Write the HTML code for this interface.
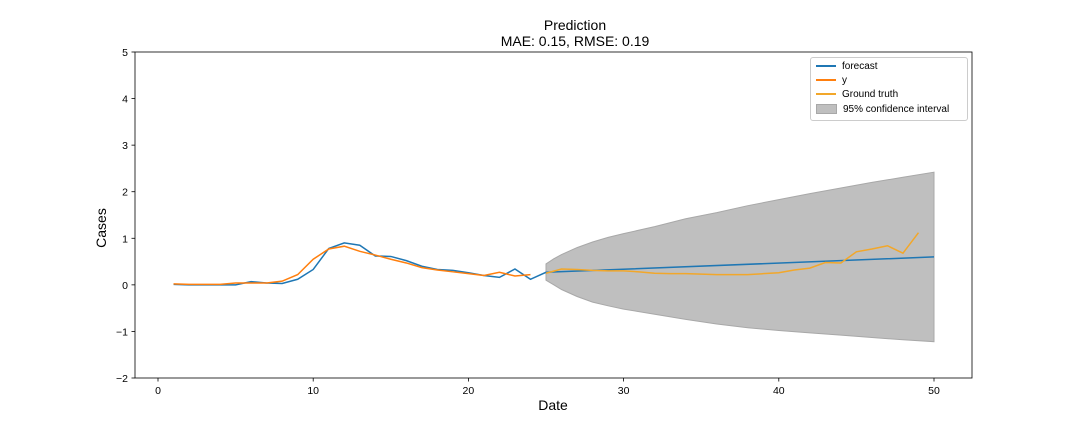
<!DOCTYPE html>
<html><head><meta charset="utf-8"><style>
html,body{margin:0;padding:0;background:#fff;font-family:"Liberation Sans","DejaVu Sans",sans-serif;width:1080px;height:432px;overflow:hidden;position:relative}
svg{display:block}
.ln{display:inline-block;width:20px;height:2px;vertical-align:middle;margin-right:6px}
</style></head><body>
<svg id="c" width="1080" height="432" xmlns="http://www.w3.org/2000/svg" font-family="Liberation Sans, DejaVu Sans, sans-serif"></svg>
<script>
const fcX=[1,2,3,4,5,6,7,8,9,10,11,12,13,14,15,16,17,18,19,20,21,22,23,24,25,50];
const fcY=[0.01,0,0,0,0,0.07,0.04,0.03,0.12,0.33,0.78,0.9,0.85,0.62,0.61,0.52,0.4,0.33,0.31,0.26,0.2,0.16,0.34,0.12,0.27,0.6];
const yX=[1,2,3,4,5,6,7,8,9,10,11,12,13,14,15,16,17,18,19,20,21,22,23,24];
const yY=[0.02,0.01,0.01,0.01,0.04,0.04,0.04,0.08,0.22,0.55,0.77,0.83,0.72,0.64,0.55,0.47,0.37,0.32,0.28,0.24,0.2,0.27,0.19,0.22];
const gtX=[25,26,27,28,29,30,31,32,33,34,35,36,37,38,39,40,41,42,43,44,45,46,47,48,49];
const gtY=[0.25,0.34,0.33,0.31,0.3,0.3,0.28,0.25,0.24,0.24,0.23,0.22,0.22,0.22,0.24,0.26,0.32,0.36,0.48,0.47,0.71,0.77,0.84,0.68,1.12];
const ciX=[25,25.5,26,27,28,29,30,32,34,36,38,40,42,44,46,48,50];
const ciUp=[0.45,0.56,0.65,0.8,0.92,1.02,1.1,1.25,1.42,1.55,1.7,1.83,1.96,2.08,2.2,2.31,2.42];
const ciLo=[0.1,0.0,-0.1,-0.25,-0.37,-0.45,-0.52,-0.63,-0.74,-0.84,-0.92,-0.98,-1.03,-1.08,-1.13,-1.18,-1.22];
const xTicks=[0,10,20,30,40,50];
const yTicks=[-2,-1,0,1,2,3,4,5];

const L=135,R=972,T=52,B=378;
const sx=v=>158+(v-0)*(934-158)/50;
const sy=v=>B-(v+2)*(B-T)/7;
const svg=document.getElementById('c');
const NS='http://www.w3.org/2000/svg';
function mk(tag,attrs,parent){const e=document.createElementNS(NS,tag);for(const k in attrs)e.setAttribute(k,attrs[k]);(parent||svg).appendChild(e);return e;}

let d='M'+ciX.map((x,i)=>sx(x)+','+sy(ciUp[i])).join('L');
for(let i=ciX.length-1;i>=0;i--)d+='L'+sx(ciX[i])+','+sy(ciLo[i]);
const ci=mk('path',{d:d+'Z',fill:'#bfbfbf',stroke:'#a8a8a8','stroke-width':1});



function line(xs,ys,col,name){const p=mk('polyline',{points:xs.map((x,i)=>sx(x)+','+sy(ys[i])).join(' '),fill:'none',stroke:col,'stroke-width':1.5});

}
line(fcX,fcY,'#1f77b4','forecast-line');
line(yX,yY,'#ff7f0e','y-line');
line(gtX,gtY,'#f2a72a','ground-truth-line');

const fr=mk('rect',{x:L,y:T,width:R-L,height:B-T,fill:'none',stroke:'#000','stroke-width':0.8});



xTicks.forEach(v=>{const x=sx(v);mk('line',{x1:x,x2:x,y1:B,y2:B+3.5,stroke:'#000','stroke-width':0.8});
const t=mk('text',{x:x,y:B+16,'text-anchor':'middle','font-size':10.5});t.textContent=v;

});
yTicks.forEach(v=>{const y=sy(v);mk('line',{x1:L,x2:L-3.5,y1:y,y2:y,stroke:'#000','stroke-width':0.8});
const t=mk('text',{x:L-7,y:y+4,'text-anchor':'end','font-size':10.5});t.textContent=v<0?'\u2212'+(-v):v;

});
</script>
<div style="position:absolute;left:0;top:0;width:1080px;height:432px;pointer-events:none">
<div style="position:absolute;left:0;width:1150px;top:17px;text-align:center;font-size:14px;line-height:16px">Prediction<br>MAE: 0.15, RMSE: 0.19</div>
<div style="position:absolute;left:503px;width:100px;top:397px;text-align:center;font-size:14px">Date</div>
<div style="position:absolute;left:71px;width:60px;top:220px;text-align:center;font-size:14px;transform:rotate(-90deg)">Cases</div>
<div style="position:absolute;left:810px;top:57px;width:156px;height:62px;border:1px solid #ccc;border-radius:3px;background:#fff;font-size:10px">
<div style="position:absolute;left:5px;top:1px;line-height:15px"><span class="ln" style="background:#1f77b4"></span>forecast</div>
<div style="position:absolute;left:5px;top:15px;line-height:15px"><span class="ln" style="background:#ff7f0e"></span>y</div>
<div style="position:absolute;left:5px;top:29px;line-height:15px"><span class="ln" style="background:#f2a72a"></span>Ground truth</div>
<div style="position:absolute;left:5px;top:44px;line-height:15px"><span style="display:inline-block;width:19px;height:8px;background:#bfbfbf;border:1px solid #a8a8a8;vertical-align:middle;margin-right:6px"></span>95% confidence interval</div>
</div>
</div>
</body></html>
